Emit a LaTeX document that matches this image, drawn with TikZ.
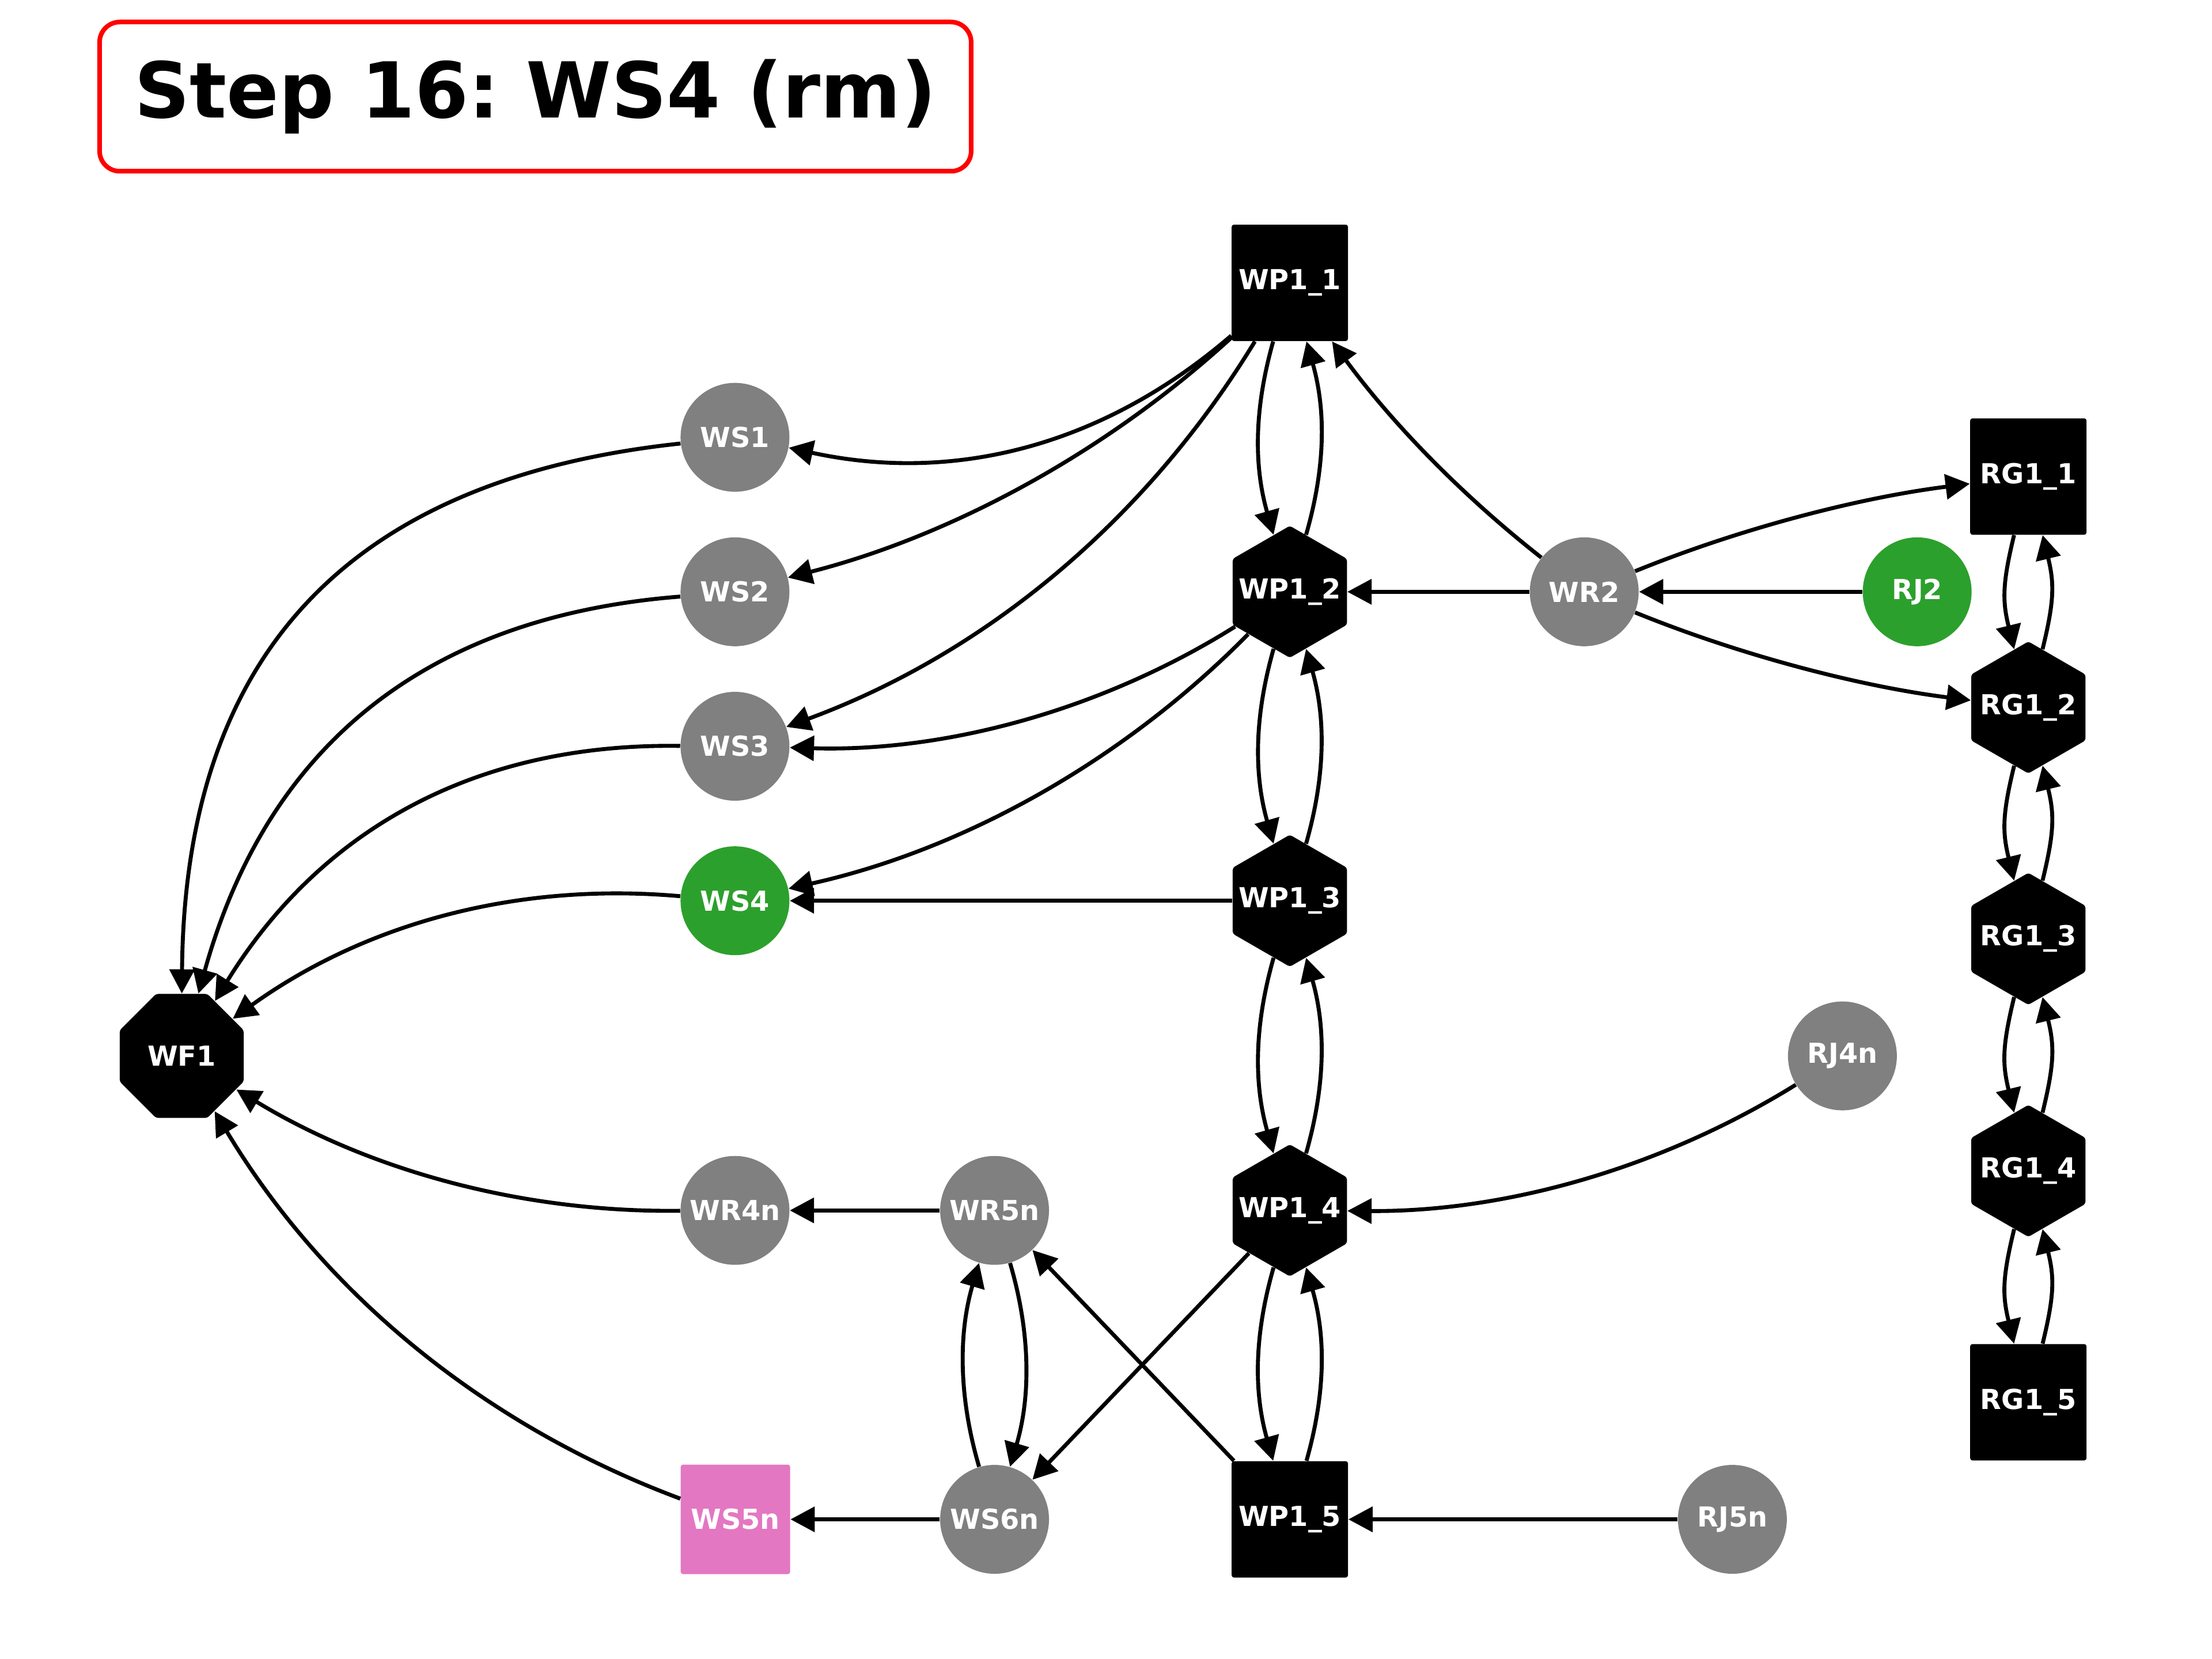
\documentclass[tikz,border=0pt]{standalone}
\usepackage{fontspec}
\setmainfont{DejaVu Sans}
\usetikzlibrary{arrows.meta, shapes.geometric}
\definecolor{wfGray}{HTML}{808080}
\definecolor{wfGreen}{HTML}{2CA02C}
\definecolor{wfPink}{HTML}{E377C2}
\definecolor{wfRed}{HTML}{FF0000}

\begin{document}
\begin{tikzpicture}[
      x=0.244898mm, y=-0.244898mm,
      every node/.style={font=\fontsize{13.6}{16}\selectfont\bfseries, text=white, inner sep=0pt},
      roundnode/.style={circle, fill=wfGray, minimum size=18.9mm},
      sqnode/.style={rectangle, fill=black, rounded corners=0.4mm, minimum size=20.2mm},
      hexnode/.style={regular polygon, regular polygon sides=6, shape border rotate=30,
                      fill=black, rounded corners=0.4mm, minimum size=22.9mm, label=center:#1},
      octnode/.style={regular polygon, regular polygon sides=8, fill=black,
                      rounded corners=0.4mm, minimum size=23.3mm},
      arr/.style={-{Triangle[length=4.2mm, width=4.3mm]}, line width=1.95pt, draw=black},
      wppair/.style={bend right=15.9, looseness=0.94},
      rgpair/.style={bend right=13.7, looseness=1.12}
    ]
    \useasboundingbox (0,0) rectangle (1568,1176);

    % --- title ---
    \node[draw=wfRed, line width=0.8mm, rounded corners=3.5mm, fill=white, text=black,
          minimum width=151.3mm, minimum height=25.9mm,
          font=\fontsize{38.1}{46}\selectfont\bfseries\frenchspacing] (title) at (379.5,68.5) {Step 16: WS4 (rm)};

    % --- left column ---
    \node[octnode] (wf1) at (128.8,748.5) {WF1};
    \node[roundnode] (ws1) at (521,310) {WS1};
    \node[roundnode] (ws2) at (521,419.5) {WS2};
    \node[roundnode] (ws3) at (521,529) {WS3};
    \node[roundnode, fill=wfGreen] (ws4) at (521,638.5) {WS4};
    \node[roundnode] (wr4n) at (521,858) {WR4n};
    \node[sqnode, fill=wfPink, minimum size=19mm] (ws5n) at (521.3,1077) {WS5n};
    \node[roundnode] (wr5n) at (705,858) {WR5n};
    \node[roundnode] (ws6n) at (705,1077) {WS6n};

    % --- WP chain ---
    \node[sqnode] (wp1) at (914.3,200.5) {WP1\_1};
    \node[hexnode=WP1\_2] (wp2) at (914.3,419.5) {};
    \node[hexnode=WP1\_3] (wp3) at (914.3,638.5) {};
    \node[hexnode=WP1\_4] (wp4) at (914.3,858) {};
    \node[sqnode] (wp5) at (914.3,1077) {WP1\_5};

    % --- right side ---
    \node[roundnode] (wr2) at (1123,419.5) {WR2};
    \node[roundnode, fill=wfGreen] (rj2) at (1359,419.5) {RJ2};
    \node[roundnode] (rj4n) at (1306,748.5) {RJ4n};
    \node[roundnode] (rj5n) at (1228,1077) {RJ5n};
    \node[sqnode] (rg1) at (1437.8,337.8) {RG1\_1};
    \node[hexnode=RG1\_2] (rg2) at (1437.8,501.5) {};
    \node[hexnode=RG1\_3] (rg3) at (1437.8,665.5) {};
    \node[hexnode=RG1\_4] (rg4) at (1437.8,830) {};
    \node[sqnode] (rg5) at (1437.8,994) {RG1\_5};

    % --- edges into the WS column ---
    \draw[arr] (wp1) to[bend left=26.5, looseness=0.95] (ws1);
    \draw[arr] (wp1) to[bend left=14.1, looseness=0.86] (ws2);
    \draw[arr] (wp1) to[bend left=19.2, looseness=0.89] (ws3);
    \draw[arr] (wp2) to[bend left=16.9, looseness=0.87] (ws3);
    \draw[arr] (wp2) to[bend left=16.4, looseness=0.87] (ws4);
    \draw[arr] (wp3) -- (ws4);

    % --- edges into WF1 ---
    \draw[arr] (ws1) to[bend right=41.7, looseness=1.16] (wf1);
    \draw[arr] (ws2) to[bend right=35, looseness=1.05] (wf1);
    \draw[arr] (ws3) to[bend right=29.6, looseness=0.98] (wf1);
    \draw[arr] (ws4) to[bend right=20.4, looseness=0.9] (wf1);
    \draw[arr] (wr4n) to[bend left=16, looseness=0.87] (wf1);
    \draw[arr] (ws5n) to[bend left=19.3, looseness=0.89] (wf1);

    % --- lower block ---
    \draw[arr] (wr5n) -- (wr4n);
    \draw[arr] (ws6n) -- (ws5n);
    \draw[arr] (wr5n) to[bend left=16.4, looseness=0.92] (ws6n);
    \draw[arr] (ws6n) to[bend left=16.4, looseness=0.92] (wr5n);
    \draw[arr] (wp4) -- (ws6n);
    \draw[arr] (wp5) -- (wr5n);
    \draw[arr] (rj5n) -- (wp5);
    \draw[arr] (rj4n) to[bend left=16.1, looseness=0.87] (wp4);

    % --- chains, both ways ---
    \foreach \a/\b in {wp1/wp2, wp2/wp3, wp3/wp4, wp4/wp5} {
      \draw[arr] (\a) to[wppair] (\b);
      \draw[arr] (\b) to[wppair] (\a);
    }
    \foreach \a/\b in {rg1/rg2, rg2/rg3, rg3/rg4, rg4/rg5} {
      \draw[arr] (\a) to[rgpair] (\b);
      \draw[arr] (\b) to[rgpair] (\a);
    }

    % --- WR2 ---
    \draw[arr] (wr2) to[bend left=7.8, looseness=0.86] (wp1);
    \draw[arr] (wr2) -- (wp2);
    \draw[arr] (rj2) -- (wr2);
    \draw[arr] (wr2) to[bend left=7.5, looseness=0.83] (rg1);
    \draw[arr] (wr2) to[bend right=7.5, looseness=0.83] (rg2);
  \end{tikzpicture}
\end{document}
